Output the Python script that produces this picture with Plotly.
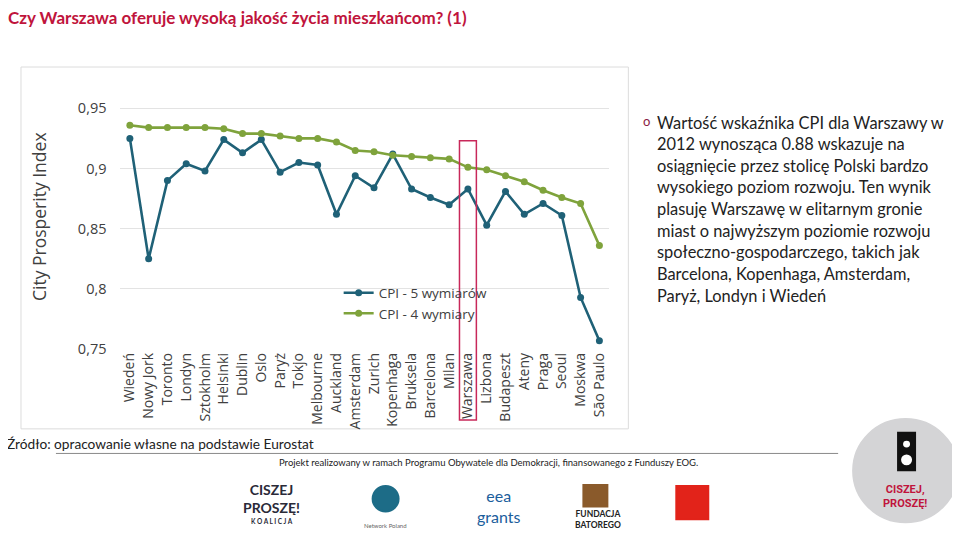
import plotly.graph_objects as go

# --- data ---
cities = ["Wiedeń", "Nowy Jork", "Toronto", "Londyn", "Sztokholm", "Helsinki", "Dublin",
          "Oslo", "Paryż", "Tokjo", "Melbourne", "Auckland", "Amsterdam", "Zurich",
          "Kopenhaga", "Bruksela", "Barcelona", "Milan", "Warszawa", "Lizbona",
          "Budapeszt", "Ateny", "Praga", "Seoul", "Moskwa", "São Paulo"]
cpi_5 = [0.925, 0.825, 0.890, 0.904, 0.898, 0.924, 0.913, 0.924, 0.897, 0.905, 0.903,
         0.862, 0.894, 0.884, 0.912, 0.883, 0.876, 0.870, 0.883, 0.853, 0.881, 0.862,
         0.871, 0.861, 0.793, 0.757]
cpi_4 = [0.936, 0.934, 0.934, 0.934, 0.934, 0.933, 0.929, 0.929, 0.927, 0.925, 0.925,
         0.922, 0.915, 0.914, 0.911, 0.910, 0.909, 0.908, 0.901, 0.899, 0.894, 0.889,
         0.882, 0.876, 0.871, 0.836]
y_ticks = [0.75, 0.8, 0.85, 0.9, 0.95]
highlight = "Warszawa"

title_text = "Czy Warszawa oferuje wysoką jakość życia mieszkańcom? (1)"
body_lines = ["Wartość wskaźnika CPI dla Warszawy w",
              "2012 wynosząca 0.88 wskazuje na",
              "osiągnięcie przez stolicę Polski bardzo",
              "wysokiego poziom rozwoju. Ten wynik",
              "plasuję Warszawę w elitarnym gronie",
              "miast o najwyższym poziomie rozwoju",
              "społeczno-gospodarczego, takich jak",
              "Barcelona, Kopenhaga, Amsterdam,",
              "Paryż, Londyn i Wiedeń"]
source_text = "Źródło: opracowanie własne na podstawie Eurostat"
project_text = "Projekt realizowany w ramach Programu Obywatele dla Demokracji, finansowanego z Funduszy EOG."

W, H = 960, 540
OFF = 8  # page body margin pushes the figure 8px right/down
BLUE = "#1f6177"
GREEN = "#7fa33c"
RED = "#c0143c"
FONT = "Lato"


def px(x):
    # screen x (pixels) -> paper
    return (x - OFF) / W


def py(y):
    # screen y (pixels) -> paper
    return 1 - (y - OFF) / H


fig = go.Figure()
fig.add_trace(go.Scatter(x=cities, y=cpi_5, name="CPI - 5 wymiarów", mode="lines+markers",
                         line=dict(color=BLUE, width=2.6), marker=dict(size=7, color=BLUE)))
fig.add_trace(go.Scatter(x=cities, y=cpi_4, name="CPI - 4 wymiary", mode="lines+markers",
                         line=dict(color=GREEN, width=2.6), marker=dict(size=7, color=GREEN)))

shapes = [
    # chart panel
    dict(type="rect", xref="paper", yref="paper", x0=px(20), x1=px(628), y0=py(436), y1=py(68),
         line=dict(color="#dcdcdc", width=1), fillcolor="white", layer="below"),
    # highlight box around Warszawa
    dict(type="rect", xref="x", yref="paper",
         x0=cities.index(highlight) - 0.45, x1=cities.index(highlight) + 0.45,
         y0=py(427), y1=py(143), line=dict(color="#c8285a", width=1.5)),
    # footer rule
    dict(type="line", xref="paper", yref="paper", x0=px(55), x1=px(838), y0=py(461), y1=py(461),
         line=dict(color="#8a8a8a", width=1)),
    # round logo on the right
    dict(type="circle", xref="paper", yref="paper", x0=px(853), x1=px(958), y0=py(531), y1=py(426),
         fillcolor="#d4d4d6", line=dict(color="#d4d4d6")),
    dict(type="rect", xref="paper", yref="paper", x0=px(898), x1=px(915), y0=py(478), y1=py(440),
         fillcolor="#111", line=dict(color="#111")),
    dict(type="circle", xref="paper", yref="paper", x0=px(900), x1=px(913), y0=py(474), y1=py(461),
         fillcolor="white", line=dict(color="#111", width=2)),
    dict(type="circle", xref="paper", yref="paper", x0=px(903), x1=px(910), y0=py(455), y1=py(448),
         fillcolor="white", line=dict(color="white", width=0)),
    # other logos (simplified)
    dict(type="circle", xref="paper", yref="paper", x0=px(372), x1=px(398), y0=py(520), y1=py(494),
         fillcolor="#1d6c87", line=dict(color="#1d6c87")),
    dict(type="rect", xref="paper", yref="paper", x0=px(583), x1=px(607), y0=py(515), y1=py(493),
         fillcolor="#8a5a2b", line=dict(color="#8a5a2b")),
    dict(type="rect", xref="paper", yref="paper", x0=px(676), x1=px(708), y0=py(528), y1=py(494),
         fillcolor="#e2231a", line=dict(color="#e2231a")),
]

ann = []
ann.append(dict(text=title_text, x=px(5), y=py(18), xanchor="left", yanchor="middle",
                font=dict(family=FONT, size=17, color=RED, weight="bold")))
ann.append(dict(text="o", x=px(641), y=py(123), xanchor="left", yanchor="middle",
                font=dict(family=FONT, size=13, color="#8b1c44")))
for i, line in enumerate(body_lines):
    ann.append(dict(text=line, x=px(655), y=py(124 + i * 22), xanchor="left", yanchor="middle",
                    font=dict(family=FONT, size=16.4, color="#222")))
ann.append(dict(text=source_text, x=px(4), y=py(451), xanchor="left", yanchor="middle",
                font=dict(family=FONT, size=13.7, color="#222")))
ann.append(dict(text=project_text, x=px(488), y=py(470), xanchor="center", yanchor="middle",
                font=dict(family=FONT, size=9.5, color="#222")))
# logo captions
ann.append(dict(text="<b>CISZEJ<br>PROSZĘ!</b>", x=px(271), y=py(507), xanchor="center", yanchor="middle",
                font=dict(family=FONT, size=14, color="#2a2a38")))
ann.append(dict(text="<b>K O A L I C J A</b>", x=px(271), y=py(530), xanchor="center", yanchor="middle",
                font=dict(family=FONT, size=6.5, color="#2a2a38")))
ann.append(dict(text="Network Poland", x=px(385), y=py(534), xanchor="center", yanchor="middle",
                font=dict(family=FONT, size=6, color="#666")))
ann.append(dict(text="eea<br>grants", x=px(474), y=py(514), xanchor="left", yanchor="middle",
                font=dict(family=FONT, size=16, color="#1b5e9c")))
ann.append(dict(text="<b>FUNDACJA<br>BATOREGO</b>", x=px(598), y=py(528), xanchor="center", yanchor="middle",
                font=dict(family=FONT, size=8.5, color="#222")))
ann.append(dict(text="<b>CISZEJ,<br>PROSZĘ!</b>", x=px(905), y=py(505), xanchor="center", yanchor="middle",
                font=dict(family="Roboto", size=11, color="#c0143c")))

fig.update_layout(
    width=W, height=H,
    margin=dict(l=0, r=0, t=0, b=0),
    paper_bgcolor="white", plot_bgcolor="rgba(0,0,0,0)",
    separators=", ",
    showlegend=True,
    legend=dict(x=px(338), y=py(282), xanchor="left", yanchor="top", bgcolor="rgba(0,0,0,0)",
                font=dict(family="Open Sans", size=13.5, color="#404040"), tracegroupgap=0,
                itemwidth=30),
    xaxis=dict(domain=[px(119.6), px(608.4)], range=[-0.5, len(cities) - 0.5],
               tickangle=-90, showgrid=False, zeroline=False, showline=False, ticks="",
               tickfont=dict(family="Open Sans", size=14, color="#404040")),
    yaxis=dict(domain=[py(355), py(85.5)], range=[0.75, 0.97], tickvals=y_ticks,
               showgrid=True, gridcolor="#e3e3e3", gridwidth=1, zeroline=False, showline=False,
               ticks="", ticklabelstandoff=13,
               tickfont=dict(family="Open Sans", size=14.5, color="#404040"),
               title=dict(text="City Prosperity Index", standoff=26,
                          font=dict(family="Open Sans", size=17.5, color="#404040"))),
    shapes=shapes,
    annotations=[dict(a, xref="paper", yref="paper", showarrow=False) for a in ann],
)

fig.write_html("out.html")
